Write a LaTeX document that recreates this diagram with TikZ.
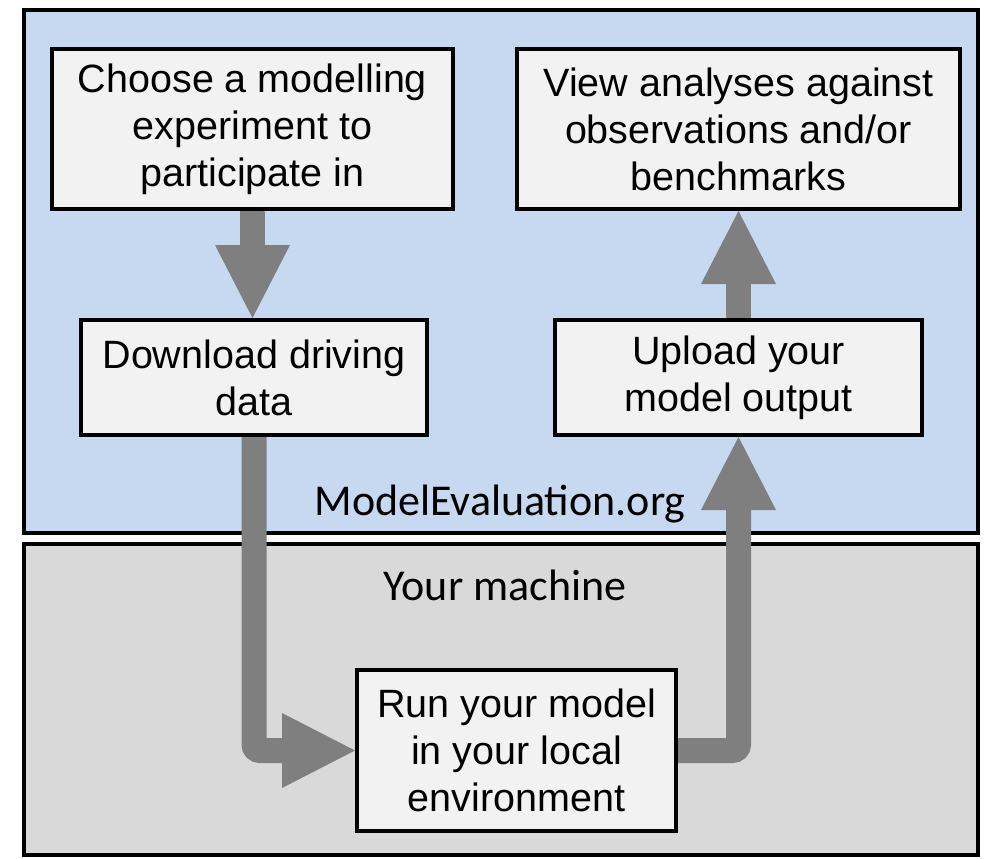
\documentclass[tikz,border=0pt]{standalone}
\usepackage{fontspec}
\setmainfont{Liberation Sans}
\newfontfamily\sitefont{Carlito}
\usetikzlibrary{arrows.meta,positioning}

\definecolor{siteblue}{HTML}{C6D9F1}
\definecolor{machinegrey}{HTML}{D9D9D9}
\definecolor{boxgrey}{HTML}{F2F2F2}
\definecolor{flowgrey}{HTML}{7F7F7F}

\begin{document}
\begin{tikzpicture}[x=1pt, y=-1pt,
  zone/.style={draw=black, line width=4pt},
  box/.style={draw=black, line width=4pt, fill=boxgrey, align=center,
              inner sep=0pt, font=\fontsize{39.5}{47}\selectfont},
  flow/.style={draw=flowgrey, line width=25pt, rounded corners=6pt,
               -{Triangle[width=75pt,length=73pt,line width=0pt]}},
  place/.style={anchor=base, font=\sitefont\fontsize{44}{52}\selectfont}]
\useasboundingbox (0,0) rectangle (989,859);

\draw[zone, fill=siteblue] (24,10) rectangle (978,533);
\draw[zone, fill=machinegrey] (24,544) rectangle (978,855);

\node[place] (site) at (500, 515) {ModelEvaluation.org};
\node[place] (machine) at (505, 600) {Your machine};

\node[box, minimum width=401, minimum height=160] (choose) at (252.5, 129)
  {Choose a modelling\\experiment to\\participate in};
\node[box, minimum width=443, minimum height=160] (view) at (738.5, 129)
  {View analyses against\\observations and/or\\benchmarks};
\node[box, minimum width=346, minimum height=115] (download) at (254, 377.5)
  {Download driving\\data};
\node[box, minimum width=367, minimum height=115] (upload) at (738.5, 377.5)
  {Upload your\\model output};
\node[box, minimum width=319, minimum height=161] (run) at (516.5, 750.5)
  {Run your model\\in your local\\environment};

\draw[flow] (choose.south) -- (choose.south |- download.north);
\draw[flow] (upload.north) -- (view.south);
\draw[flow] (download.south) |- (run.west);
\draw[flow] (run.east) -| (upload.south);
\end{tikzpicture}
\end{document}
